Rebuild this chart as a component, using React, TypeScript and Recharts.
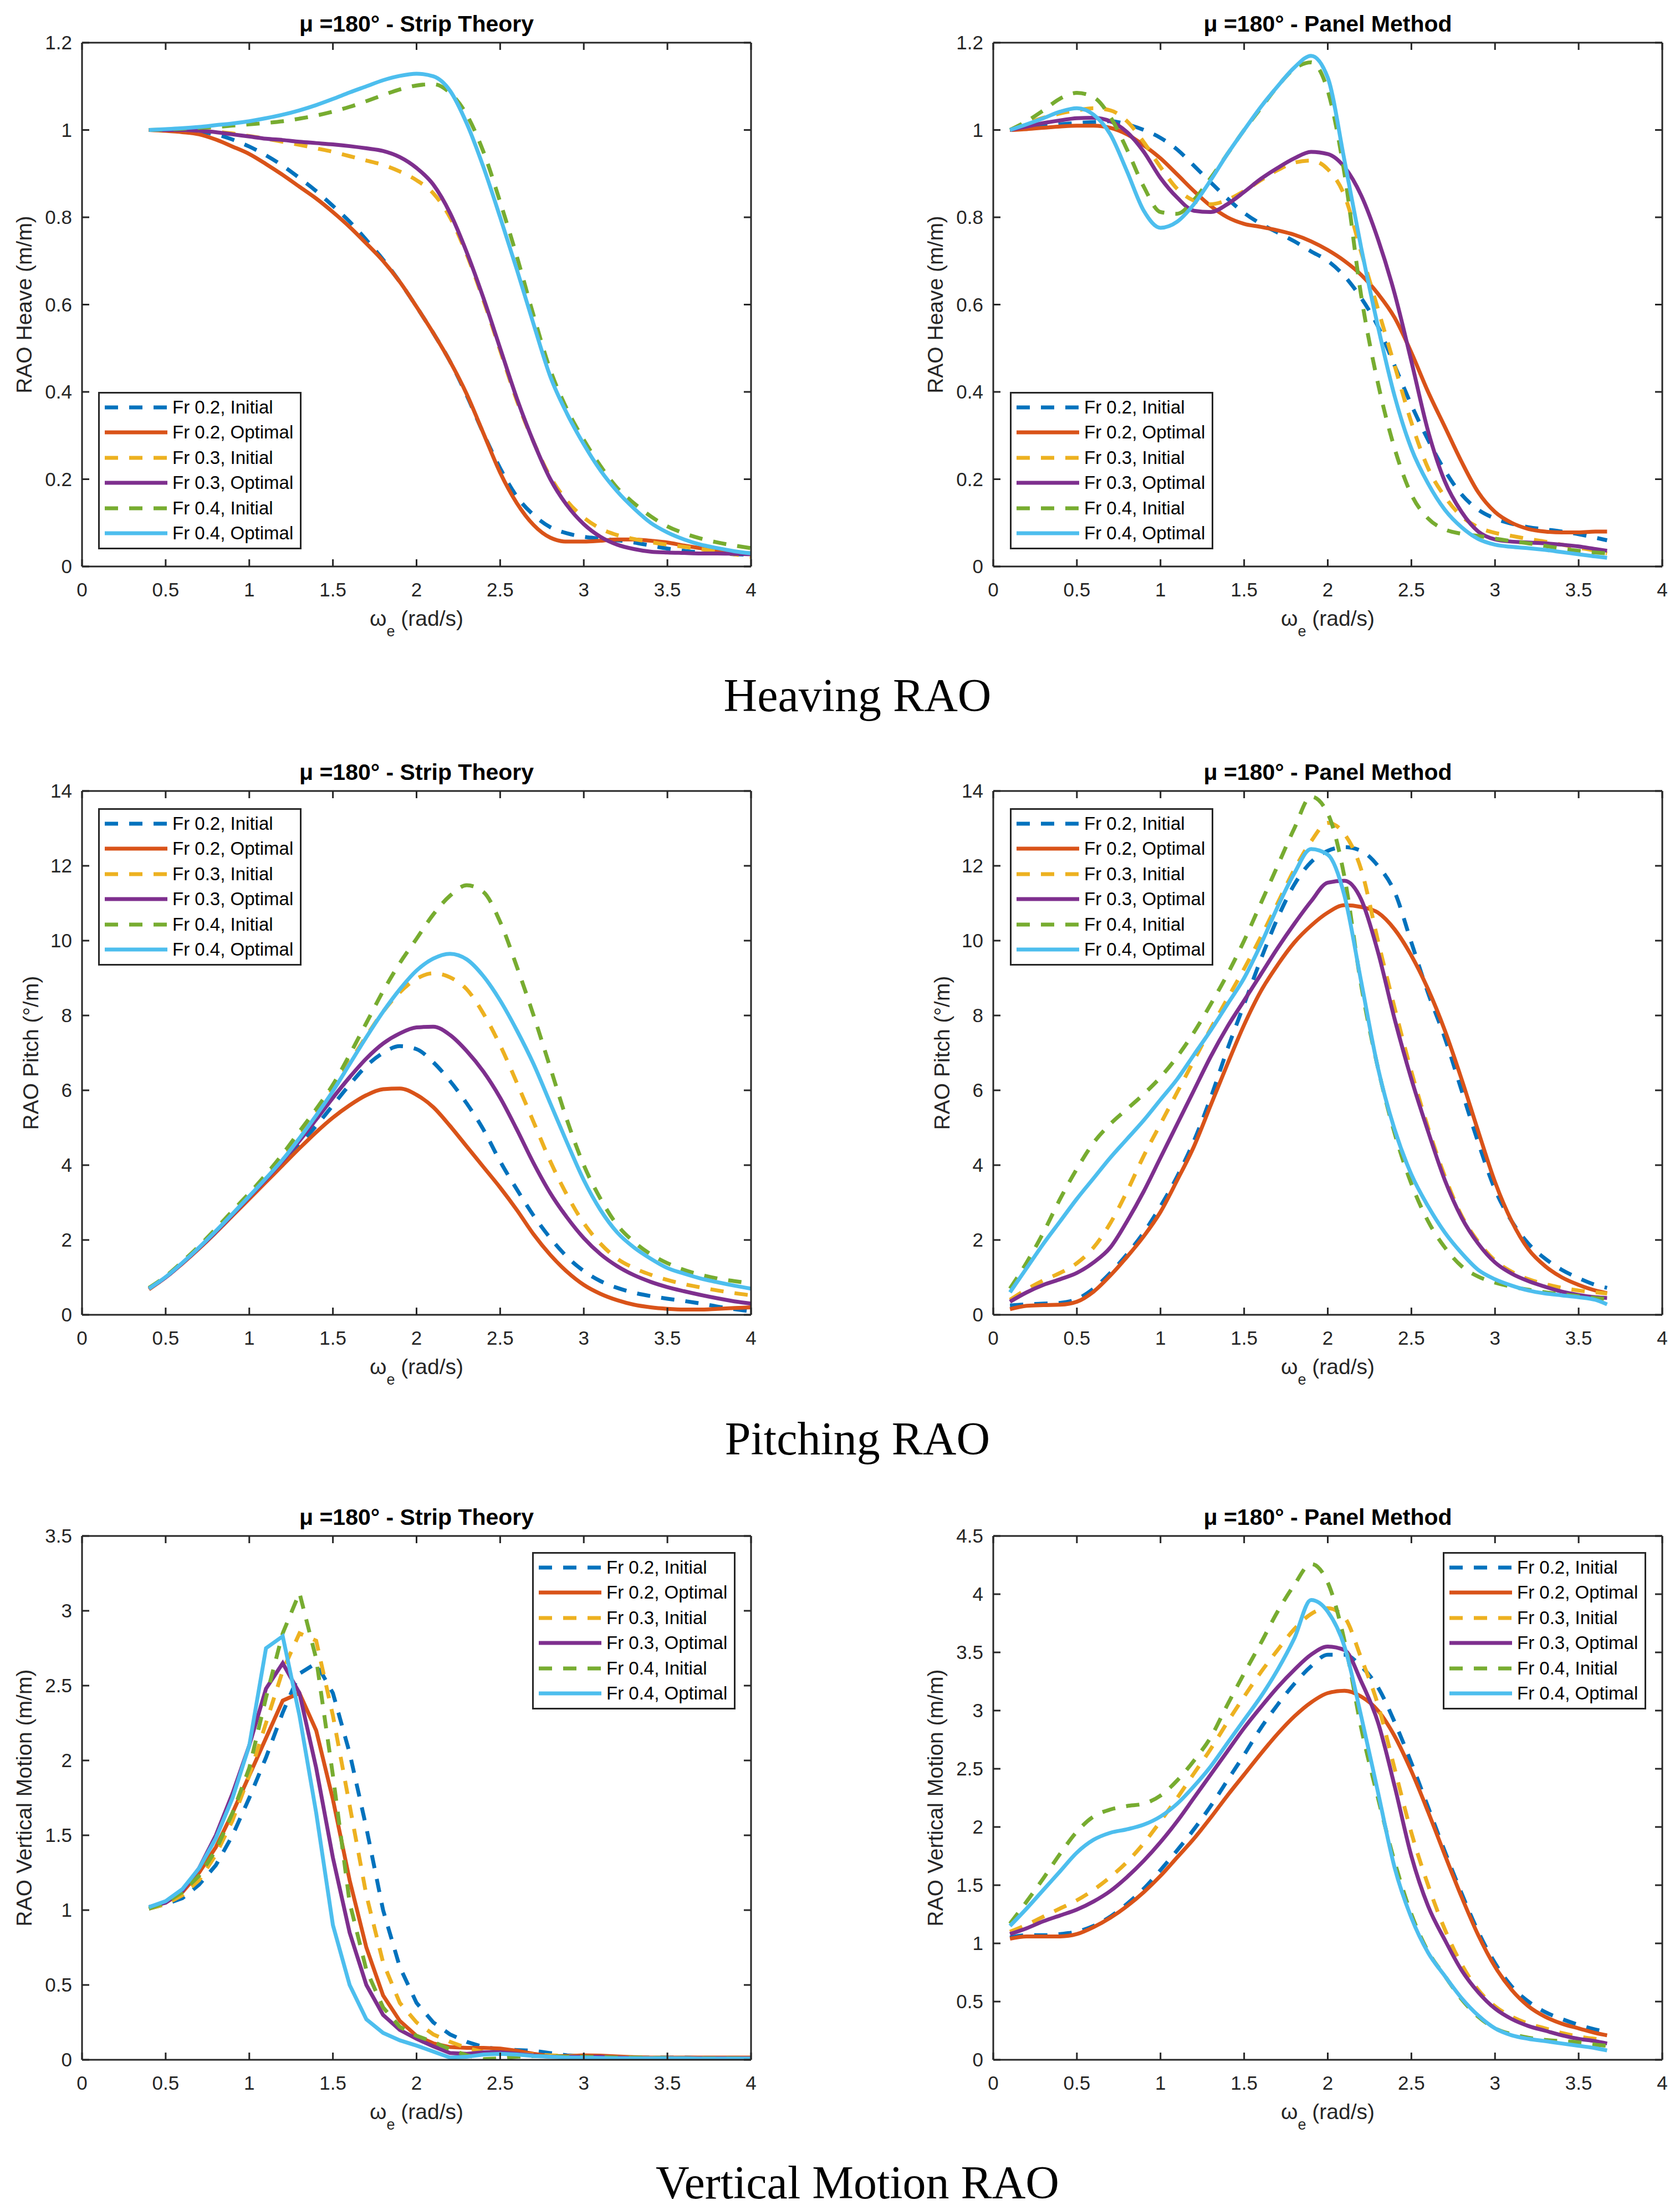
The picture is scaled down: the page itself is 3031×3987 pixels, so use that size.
import React from 'react';
import { LineChart, Line, XAxis, YAxis, Legend, Label } from 'recharts';

const AXIS = '#262626';
const SANS = '"Liberation Sans", Arial, Helvetica, sans-serif';
const SERIF = '"Liberation Serif", "Times New Roman", serif';
const DASH = '24 20';

const PLOT_W = 1207;
const PLOT_H = 945;
const ML = 145;
const MT = 80;
const MR = 20;
const MB = 150;
const CW = ML + PLOT_W + MR;
const CH = MT + PLOT_H + MB;

// ---------- categories / ticks ----------
const stripX = [0.4, 0.5, 0.6, 0.7, 0.8, 0.9, 1.0, 1.1, 1.2, 1.3, 1.4, 1.5, 1.6, 1.7, 1.8, 1.9, 2.0, 2.1, 2.2, 2.3, 2.4, 2.5, 2.6, 2.7, 2.8, 2.9, 3.0, 3.1, 3.2, 3.3, 3.4, 3.5, 3.6, 3.7, 3.8, 3.9, 4.0];
const panelX = [0.1, 0.2, 0.3, 0.4, 0.5, 0.6, 0.7, 0.8, 0.9, 1.0, 1.1, 1.2, 1.3, 1.4, 1.5, 1.6, 1.7, 1.8, 1.9, 2.0, 2.1, 2.2, 2.3, 2.4, 2.5, 2.6, 2.7, 2.8, 2.9, 3.0, 3.1, 3.2, 3.3, 3.4, 3.5, 3.6, 3.67];
const xTicks = [0, 0.5, 1, 1.5, 2, 2.5, 3, 3.5, 4];
const heaveTicks = [0, 0.2, 0.4, 0.6, 0.8, 1, 1.2];
const pitchTicks = [0, 2, 4, 6, 8, 10, 12, 14];
const vertStripTicks = [0, 0.5, 1, 1.5, 2, 2.5, 3, 3.5];
const vertPanelTicks = [0, 0.5, 1, 1.5, 2, 2.5, 3, 3.5, 4, 4.5];

const seriesNames = ['Fr 0.2, Initial', 'Fr 0.2, Optimal', 'Fr 0.3, Initial', 'Fr 0.3, Optimal', 'Fr 0.4, Initial', 'Fr 0.4, Optimal'];
const seriesColors = ['#0072BD', '#D95319', '#EDB120', '#7E2F8E', '#77AC30', '#4DBEEE'];
const seriesDashed = [true, false, true, false, true, false];

// ---------- Heave, strip theory ----------
const heaveStripFr02Init = [1.0, 1.0, 0.998, 0.995, 0.99, 0.978, 0.962, 0.942, 0.918, 0.89, 0.86, 0.826, 0.79, 0.748, 0.703, 0.652, 0.595, 0.535, 0.47, 0.392, 0.305, 0.225, 0.16, 0.118, 0.09, 0.076, 0.068, 0.064, 0.06, 0.055, 0.048, 0.041, 0.036, 0.032, 0.03, 0.028, 0.027];
const heaveStripFr02Opt = [1.0, 0.998, 0.995, 0.99, 0.978, 0.962, 0.945, 0.922, 0.897, 0.87, 0.843, 0.812, 0.778, 0.74, 0.7, 0.652, 0.595, 0.535, 0.47, 0.395, 0.305, 0.215, 0.145, 0.095, 0.066, 0.057, 0.057, 0.059, 0.062, 0.062, 0.059, 0.055, 0.048, 0.042, 0.037, 0.033, 0.03];
const heaveStripFr03Init = [1.0, 1.0, 1.0, 0.998, 0.996, 0.992, 0.986, 0.98, 0.973, 0.966, 0.958, 0.95, 0.94, 0.93, 0.92, 0.905, 0.885, 0.855, 0.8, 0.715, 0.61, 0.495, 0.38, 0.285, 0.205, 0.15, 0.112, 0.087, 0.072, 0.063, 0.056, 0.05, 0.045, 0.04, 0.034, 0.028, 0.022];
const heaveStripFr03Opt = [1.0, 1.0, 1.0, 0.998, 0.995, 0.99, 0.985, 0.98, 0.977, 0.973, 0.97, 0.967, 0.963, 0.958, 0.952, 0.938, 0.913, 0.875, 0.81, 0.72, 0.615, 0.5, 0.385, 0.285, 0.2, 0.14, 0.097, 0.068, 0.05, 0.04, 0.034, 0.032, 0.031, 0.03, 0.03, 0.029, 0.028];
const heaveStripFr04Init = [1.0, 1.001, 1.003, 1.005, 1.007, 1.01, 1.013, 1.016, 1.02, 1.026, 1.033, 1.042, 1.053, 1.066, 1.08, 1.093, 1.102, 1.105, 1.085, 1.035, 0.95, 0.835, 0.71, 0.575, 0.45, 0.36, 0.29, 0.23, 0.18, 0.145, 0.115, 0.092, 0.076, 0.064, 0.055, 0.048, 0.042];
const heaveStripFr04Opt = [1.0, 1.002, 1.004, 1.007, 1.011, 1.015, 1.02, 1.027, 1.035, 1.045, 1.057, 1.071, 1.086, 1.1, 1.114, 1.124, 1.129, 1.123, 1.09, 1.015, 0.915, 0.8, 0.68, 0.555, 0.435, 0.35, 0.28, 0.22, 0.172, 0.133, 0.1, 0.078, 0.062, 0.05, 0.042, 0.035, 0.03];

// ---------- Heave, panel method ----------
const heavePanelFr02Init = [1.0, 1.005, 1.01, 1.013, 1.016, 1.018, 1.02, 1.013, 1.0, 0.982, 0.955, 0.918, 0.88, 0.843, 0.81, 0.785, 0.765, 0.745, 0.722, 0.7, 0.665, 0.615, 0.55, 0.46, 0.37, 0.29, 0.22, 0.165, 0.13, 0.11, 0.098, 0.09, 0.085, 0.08, 0.074, 0.066, 0.06];
const heavePanelFr02Opt = [1.0, 1.002, 1.005, 1.008, 1.01, 1.01, 1.005, 0.99, 0.965, 0.935, 0.898, 0.86, 0.826, 0.8, 0.785, 0.778, 0.77, 0.76, 0.745, 0.725, 0.7, 0.668, 0.625, 0.57, 0.49, 0.4, 0.32, 0.24, 0.17, 0.125, 0.1, 0.086, 0.08, 0.078, 0.078, 0.08, 0.08];
const heavePanelFr03Init = [1.0, 1.015, 1.028, 1.038, 1.045, 1.05, 1.045, 1.02, 0.972, 0.915, 0.865, 0.838, 0.83, 0.84, 0.86, 0.885, 0.908, 0.925, 0.93, 0.91, 0.85, 0.72, 0.59, 0.46, 0.33, 0.225, 0.16, 0.115, 0.09, 0.077, 0.07, 0.063, 0.057, 0.05, 0.043, 0.036, 0.03];
const heavePanelFr03Opt = [1.0, 1.008, 1.016, 1.022, 1.027, 1.028, 1.02, 0.995, 0.95, 0.89, 0.845, 0.815, 0.812, 0.83, 0.858, 0.888, 0.913, 0.935, 0.95, 0.945, 0.915, 0.85, 0.75, 0.625, 0.47, 0.31, 0.195, 0.125, 0.08, 0.062, 0.057, 0.055, 0.053, 0.05, 0.046, 0.04, 0.036];
const heavePanelFr04Init = [1.0, 1.02, 1.045, 1.072, 1.085, 1.075, 1.03, 0.955, 0.87, 0.812, 0.808, 0.84, 0.89, 0.945, 1.0, 1.05, 1.1, 1.14, 1.155, 1.09, 0.9, 0.62, 0.42, 0.27, 0.165, 0.11, 0.085, 0.075, 0.07, 0.064, 0.058, 0.053, 0.047, 0.041, 0.036, 0.032, 0.03];
const heavePanelFr04Opt = [1.0, 1.013, 1.027, 1.042, 1.05, 1.035, 0.99, 0.905, 0.815, 0.776, 0.79, 0.83, 0.885, 0.945, 1.0, 1.053, 1.1, 1.143, 1.17, 1.12, 0.93, 0.73, 0.55, 0.39, 0.27, 0.19, 0.13, 0.09, 0.063, 0.05, 0.045, 0.042, 0.038, 0.033, 0.028, 0.023, 0.02];

// ---------- Pitch, strip theory ----------
const pitchStripFr02Init = [0.7, 1.0, 1.38, 1.78, 2.2, 2.66, 3.12, 3.58, 4.05, 4.55, 5.05, 5.6, 6.15, 6.65, 7.0, 7.18, 7.1, 6.75, 6.25, 5.65, 4.95, 4.1, 3.35, 2.65, 2.05, 1.55, 1.17, 0.9, 0.72, 0.59, 0.5, 0.43, 0.37, 0.3, 0.22, 0.15, 0.09];
const pitchStripFr02Opt = [0.68, 1.0, 1.37, 1.77, 2.2, 2.65, 3.1, 3.55, 4.0, 4.45, 4.88, 5.27, 5.6, 5.87, 6.03, 6.05, 5.88, 5.55, 5.05, 4.5, 3.95, 3.4, 2.8, 2.15, 1.6, 1.15, 0.8, 0.56, 0.39, 0.27, 0.2, 0.16, 0.14, 0.14, 0.16, 0.18, 0.2];
const pitchStripFr03Init = [0.7, 1.01, 1.39, 1.8, 2.24, 2.7, 3.18, 3.68, 4.2, 4.78, 5.4, 6.05, 6.75, 7.45, 8.1, 8.62, 8.98, 9.13, 9.02, 8.7, 8.05, 7.2, 6.2, 5.15, 4.1, 3.2, 2.45, 1.9, 1.5, 1.25, 1.07, 0.93, 0.82, 0.73, 0.65, 0.58, 0.52];
const pitchStripFr03Opt = [0.7, 1.0, 1.38, 1.79, 2.22, 2.68, 3.15, 3.62, 4.12, 4.65, 5.22, 5.8, 6.35, 6.85, 7.25, 7.52, 7.68, 7.7, 7.48, 7.05, 6.5, 5.8, 4.95, 4.05, 3.25, 2.6, 2.05, 1.62, 1.3, 1.06, 0.88, 0.74, 0.63, 0.53, 0.44, 0.36, 0.3];
const pitchStripFr04Init = [0.72, 1.03, 1.42, 1.84, 2.3, 2.78, 3.25, 3.75, 4.3, 4.9, 5.5, 6.15, 6.95, 7.8, 8.65, 9.4, 10.05, 10.7, 11.2, 11.48, 11.3, 10.5, 9.3, 8.0, 6.6, 5.2, 4.0, 3.1, 2.4, 1.95, 1.62, 1.38, 1.2, 1.07, 0.97, 0.9, 0.84];
const pitchStripFr04Opt = [0.7, 1.01, 1.39, 1.8, 2.24, 2.7, 3.17, 3.65, 4.15, 4.72, 5.33, 5.98, 6.7, 7.42, 8.1, 8.7, 9.2, 9.52, 9.65, 9.5, 9.05, 8.4, 7.6, 6.7, 5.65, 4.6, 3.6, 2.8, 2.2, 1.8, 1.5, 1.25, 1.1, 0.97, 0.87, 0.78, 0.7];

// ---------- Pitch, panel method ----------
const pitchPanelFr02Init = [0.25, 0.28, 0.3, 0.32, 0.42, 0.7, 1.12, 1.62, 2.2, 2.9, 3.7, 4.65, 5.8, 7.1, 8.3, 9.5, 10.6, 11.5, 12.1, 12.4, 12.5, 12.4, 12.0, 11.3, 9.95, 8.6, 7.4, 6.0, 4.6, 3.35, 2.5, 1.9, 1.5, 1.2, 0.98, 0.8, 0.72];
const pitchPanelFr02Opt = [0.15, 0.24, 0.26, 0.27, 0.35, 0.62, 1.05, 1.55, 2.1, 2.75, 3.6, 4.5, 5.6, 6.7, 7.75, 8.65, 9.35, 9.95, 10.4, 10.75, 10.95, 10.9, 10.75, 10.3, 9.6, 8.7, 7.6, 6.3, 4.9, 3.55, 2.5, 1.75, 1.3, 1.0, 0.8, 0.65, 0.58];
const pitchPanelFr03Init = [0.4, 0.68, 0.92, 1.12, 1.38, 1.8, 2.45, 3.3, 4.25, 5.1, 5.95, 6.8, 7.65, 8.45, 9.25, 10.1, 11.0, 11.9, 12.65, 13.15, 12.85, 11.9, 10.0, 8.2, 6.5, 5.0, 3.7, 2.65, 1.95, 1.45, 1.15, 0.95, 0.82, 0.72, 0.65, 0.6, 0.57];
const pitchPanelFr03Opt = [0.35, 0.6, 0.8, 0.95, 1.12, 1.4, 1.8, 2.5, 3.3, 4.2, 5.1, 6.0, 6.9, 7.7, 8.4, 9.1, 9.8, 10.45, 11.05, 11.55, 11.6, 11.1, 9.7, 7.9, 6.3, 4.9, 3.6, 2.6, 1.9, 1.4, 1.1, 0.9, 0.75, 0.62, 0.53, 0.47, 0.45];
const pitchPanelFr04Init = [0.7, 1.4, 2.2, 3.1, 3.9, 4.6, 5.1, 5.5, 5.9, 6.35, 6.9, 7.55, 8.3, 9.1, 10.0, 11.0, 12.0, 13.0, 13.85, 13.4, 11.7, 8.8, 6.6, 4.85, 3.5, 2.5, 1.8, 1.3, 1.02, 0.86, 0.75, 0.67, 0.6, 0.55, 0.5, 0.45, 0.42];
const pitchPanelFr04Opt = [0.6, 1.25, 1.9, 2.5, 3.1, 3.65, 4.2, 4.7, 5.2, 5.75, 6.3, 6.95, 7.6, 8.3, 9.0, 9.9, 10.9, 11.8, 12.45, 12.3, 11.2, 8.9, 6.6, 4.95, 3.75, 2.9, 2.2, 1.65, 1.2, 0.95, 0.78, 0.65, 0.57, 0.52, 0.47, 0.4, 0.28];

// ---------- Vertical motion, strip theory ----------
const vertStripFr02Init = [1.01, 1.04, 1.08, 1.17, 1.3, 1.5, 1.75, 2.02, 2.32, 2.58, 2.65, 2.45, 2.05, 1.55, 1.0, 0.62, 0.38, 0.25, 0.17, 0.12, 0.085, 0.07, 0.065, 0.06, 0.045, 0.03, 0.025, 0.02, 0.02, 0.015, 0.015, 0.015, 0.015, 0.012, 0.01, 0.01, 0.01];
const vertStripFr02Opt = [1.02, 1.05, 1.12, 1.25, 1.42, 1.65, 1.9, 2.15, 2.4, 2.45, 2.2, 1.74, 1.2, 0.75, 0.43, 0.26, 0.16, 0.11, 0.085, 0.08, 0.08, 0.075, 0.06, 0.04, 0.025, 0.025, 0.03, 0.028, 0.022, 0.018, 0.015, 0.015, 0.015, 0.015, 0.015, 0.015, 0.015];
const vertStripFr03Init = [1.01, 1.04, 1.1, 1.2, 1.37, 1.6, 1.9, 2.25, 2.6, 2.85, 2.8, 2.3, 1.7, 1.1, 0.65, 0.38, 0.25, 0.17, 0.12, 0.08, 0.05, 0.04, 0.04, 0.035, 0.03, 0.025, 0.02, 0.018, 0.015, 0.015, 0.012, 0.012, 0.01, 0.01, 0.01, 0.01, 0.01];
const vertStripFr03Opt = [1.02, 1.05, 1.13, 1.28, 1.5, 1.78, 2.1, 2.48, 2.65, 2.45, 1.95, 1.35, 0.85, 0.5, 0.3, 0.2, 0.14, 0.09, 0.045, 0.04, 0.05, 0.05, 0.04, 0.03, 0.02, 0.02, 0.02, 0.02, 0.015, 0.012, 0.01, 0.01, 0.01, 0.01, 0.01, 0.01, 0.01];
const vertStripFr04Init = [1.01, 1.05, 1.12, 1.23, 1.4, 1.65, 1.95, 2.42, 2.85, 3.12, 2.68, 1.9, 1.05, 0.6, 0.35, 0.22, 0.16, 0.12, 0.07, 0.03, 0.005, 0.01, 0.02, 0.025, 0.025, 0.02, 0.02, 0.018, 0.015, 0.015, 0.012, 0.012, 0.01, 0.01, 0.01, 0.01, 0.01];
const vertStripFr04Opt = [1.02, 1.06, 1.14, 1.28, 1.48, 1.75, 2.1, 2.75, 2.83, 2.3, 1.65, 0.9, 0.5, 0.27, 0.18, 0.13, 0.095, 0.055, 0.015, 0.02, 0.035, 0.04, 0.035, 0.025, 0.02, 0.015, 0.015, 0.012, 0.01, 0.01, 0.01, 0.01, 0.01, 0.008, 0.008, 0.008, 0.008];

// ---------- Vertical motion, panel method ----------
const vertPanelFr02Init = [1.05, 1.07, 1.07, 1.08, 1.1, 1.15, 1.23, 1.34, 1.47, 1.63, 1.8, 1.98, 2.18, 2.4, 2.62, 2.85, 3.05, 3.23, 3.38, 3.48, 3.48, 3.38, 3.2, 2.9, 2.55, 2.17, 1.79, 1.43, 1.1, 0.83, 0.63, 0.5, 0.41, 0.35, 0.3, 0.26, 0.24];
const vertPanelFr02Opt = [1.04, 1.06, 1.06, 1.06, 1.08, 1.14, 1.22, 1.32, 1.44, 1.58, 1.74, 1.9, 2.08, 2.27, 2.45, 2.63, 2.8, 2.95, 3.07, 3.15, 3.17, 3.12, 3.0, 2.78, 2.48, 2.13, 1.76, 1.4, 1.07, 0.8, 0.6, 0.46, 0.37, 0.31, 0.27, 0.23, 0.21];
const vertPanelFr03Init = [1.1, 1.16, 1.23, 1.3, 1.37, 1.46, 1.57, 1.7, 1.86, 2.05, 2.25, 2.46, 2.67, 2.9, 3.12, 3.33, 3.52, 3.7, 3.83, 3.88, 3.8, 3.45, 3.05, 2.5, 1.95, 1.5, 1.12, 0.82, 0.6, 0.46, 0.37, 0.31, 0.27, 0.23, 0.2, 0.18, 0.17];
const vertPanelFr03Opt = [1.08, 1.13, 1.19, 1.24, 1.29, 1.36, 1.45, 1.57, 1.71, 1.87, 2.05, 2.25, 2.45, 2.65, 2.85, 3.03, 3.2, 3.35, 3.48, 3.55, 3.52, 3.25, 2.9, 2.35, 1.75, 1.32, 1.03, 0.77, 0.58, 0.44, 0.35, 0.29, 0.25, 0.21, 0.18, 0.16, 0.14];
const vertPanelFr04Init = [1.17, 1.36, 1.56, 1.77, 1.96, 2.09, 2.15, 2.18, 2.2, 2.27, 2.4, 2.57, 2.77, 3.05, 3.32, 3.58, 3.85, 4.08, 4.26, 4.1, 3.6, 2.85, 2.25, 1.7, 1.25, 0.93, 0.72, 0.52, 0.37, 0.27, 0.22, 0.19, 0.17, 0.16, 0.15, 0.13, 0.12];
const vertPanelFr04Opt = [1.15, 1.3, 1.46, 1.62, 1.78, 1.89, 1.95, 1.98, 2.02, 2.09, 2.2, 2.35, 2.52, 2.72, 2.92, 3.12, 3.35, 3.62, 3.95, 3.85, 3.55, 2.95, 2.3, 1.65, 1.22, 0.92, 0.72, 0.53, 0.38, 0.27, 0.21, 0.18, 0.16, 0.14, 0.12, 0.1, 0.08];

function buildRows(xs: number[], series: number[][]) {
  return xs.map((x, i) => {
    const row: Record<string, number> = { x };
    series.forEach((s, k) => {
      row['s' + k] = s[i];
    });
    return row;
  });
}

const heaveStripRows = buildRows(stripX, [heaveStripFr02Init, heaveStripFr02Opt, heaveStripFr03Init, heaveStripFr03Opt, heaveStripFr04Init, heaveStripFr04Opt]);
const heavePanelRows = buildRows(panelX, [heavePanelFr02Init, heavePanelFr02Opt, heavePanelFr03Init, heavePanelFr03Opt, heavePanelFr04Init, heavePanelFr04Opt]);
const pitchStripRows = buildRows(stripX, [pitchStripFr02Init, pitchStripFr02Opt, pitchStripFr03Init, pitchStripFr03Opt, pitchStripFr04Init, pitchStripFr04Opt]);
const pitchPanelRows = buildRows(panelX, [pitchPanelFr02Init, pitchPanelFr02Opt, pitchPanelFr03Init, pitchPanelFr03Opt, pitchPanelFr04Init, pitchPanelFr04Opt]);
const vertStripRows = buildRows(stripX, [vertStripFr02Init, vertStripFr02Opt, vertStripFr03Init, vertStripFr03Opt, vertStripFr04Init, vertStripFr04Opt]);
const vertPanelRows = buildRows(panelX, [vertPanelFr02Init, vertPanelFr02Opt, vertPanelFr03Init, vertPanelFr03Opt, vertPanelFr04Init, vertPanelFr04Opt]);

// Empty tick label renderer: keeps the inward tick lines but draws no label.
const noTickLabel = () => <g />;

const renderLegend = (props: any) => {
  const payload = (props && props.payload) || [];
  return (
    <div style={{ position: 'relative', width: 367, height: 284, boxSizing: 'border-box', border: `3px solid ${AXIS}`, background: '#fff' }}>
      {payload.map((entry: any, i: number) => {
        const dash = (entry.payload && entry.payload.strokeDasharray) || (seriesDashed[i] ? DASH : undefined);
        return (
          <div key={i} style={{ position: 'absolute', left: 9, top: 3 + i * 45.4, height: 44, display: 'flex', alignItems: 'center' }}>
            <svg width={113} height={10} style={{ display: 'block' }}>
              <line x1={0} y1={5} x2={113} y2={5} stroke={entry.color} strokeWidth={7} strokeDasharray={dash} />
            </svg>
            <span style={{ marginLeft: 9, fontFamily: SANS, fontSize: 33, color: '#000', lineHeight: '44px', whiteSpace: 'nowrap' }}>{entry.value}</span>
          </div>
        );
      })}
    </div>
  );
};

type PanelProps = {
  plotLeft: number;
  plotTop: number;
  title: string;
  yLabel: string;
  yGap: number;
  yDomain: [number, number];
  yTicks: number[];
  rows: Record<string, number>[];
  legendX: number;
  legendY: number;
  curve: 'monotone' | 'linear';
};

function Panel(p: PanelProps) {
  const { plotLeft, plotTop, title, yLabel, yGap, yDomain, yTicks, rows, legendX, legendY, curve } = p;

  const renderXLabel = () => {
    const cx = ML + PLOT_W / 2;
    const by = MT + PLOT_H + 107;
    return (
      <text x={cx} y={by} textAnchor="middle" fill={AXIS} fontFamily={SANS} fontSize={39} style={{ whiteSpace: 'pre' }}>
        <tspan>ω</tspan>
        <tspan dy={19} fontSize={27}>e</tspan>
        <tspan dy={-19}>{' (rad/s)'}</tspan>
      </text>
    );
  };

  const renderYLabel = () => {
    const x = ML - yGap;
    const y = MT + PLOT_H / 2;
    return (
      <text x={x} y={y} transform={`rotate(-90, ${x}, ${y})`} textAnchor="middle" dominantBaseline="central" fill={AXIS} fontFamily={SANS} fontSize={39}>
        {yLabel}
      </text>
    );
  };

  const axisLine = { stroke: AXIS, strokeWidth: 3 };
  const tickLine = { stroke: AXIS, strokeWidth: 3 };
  const tickStyle = { fill: AXIS, fontSize: 35, fontFamily: SANS };

  return (
    <div style={{ position: 'absolute', left: plotLeft - ML, top: plotTop - MT, width: CW, height: CH }}>
      <div
        style={{
          position: 'absolute',
          left: ML,
          width: PLOT_W,
          top: MT - 19 - 35,
          textAlign: 'center',
          fontFamily: SANS,
          fontWeight: 'bold',
          fontSize: 41,
          lineHeight: '41px',
          color: '#000',
          whiteSpace: 'nowrap',
        }}
      >
        {title}
      </div>
      <LineChart width={CW} height={CH} data={rows} margin={{ top: MT, right: MR, bottom: 0, left: 0 }}>
        <XAxis
          xAxisId="b"
          type="number"
          dataKey="x"
          domain={[0, 4]}
          ticks={xTicks}
          interval={0}
          allowDataOverflow
          height={MB}
          stroke={AXIS}
          axisLine={axisLine}
          tickLine={false}
          tickSize={0}
          tickMargin={29}
          tick={tickStyle}
        >
          <Label content={renderXLabel} />
        </XAxis>
        <XAxis
          xAxisId="bm"
          type="number"
          dataKey="x"
          domain={[0, 4]}
          ticks={xTicks}
          interval={0}
          allowDataOverflow
          mirror
          stroke={AXIS}
          axisLine={false}
          tickLine={tickLine}
          tickSize={13}
          tick={noTickLabel}
        />
        <XAxis
          xAxisId="t"
          orientation="top"
          type="number"
          dataKey="x"
          domain={[0, 4]}
          ticks={xTicks}
          interval={0}
          allowDataOverflow
          mirror
          stroke={AXIS}
          axisLine={axisLine}
          tickLine={tickLine}
          tickSize={13}
          tick={noTickLabel}
        />
        <YAxis
          yAxisId="l"
          type="number"
          domain={yDomain}
          ticks={yTicks}
          interval={0}
          allowDataOverflow
          width={ML}
          stroke={AXIS}
          axisLine={axisLine}
          tickLine={false}
          tickSize={0}
          tickMargin={18}
          tick={tickStyle}
        >
          <Label content={renderYLabel} />
        </YAxis>
        <YAxis
          yAxisId="lm"
          type="number"
          domain={yDomain}
          ticks={yTicks}
          interval={0}
          allowDataOverflow
          mirror
          stroke={AXIS}
          axisLine={false}
          tickLine={tickLine}
          tickSize={13}
          tick={noTickLabel}
        />
        <YAxis
          yAxisId="r"
          orientation="right"
          type="number"
          domain={yDomain}
          ticks={yTicks}
          interval={0}
          allowDataOverflow
          mirror
          stroke={AXIS}
          axisLine={axisLine}
          tickLine={tickLine}
          tickSize={13}
          tick={noTickLabel}
        />
        {seriesNames.map((name, k) => (
          <Line
            key={name}
            xAxisId="b"
            yAxisId="l"
            type={curve}
            dataKey={'s' + k}
            name={name}
            stroke={seriesColors[k]}
            strokeWidth={7}
            strokeDasharray={seriesDashed[k] ? DASH : undefined}
            dot={false}
            activeDot={false}
            isAnimationActive={false}
          />
        ))}
        <Legend
          layout="vertical"
          align="center"
          verticalAlign="middle"
          wrapperStyle={{ left: ML + legendX, top: MT + legendY, width: 367, height: 284 }}
          content={renderLegend}
        />
      </LineChart>
    </div>
  );
}

function Caption({ text, baseline }: { text: string; baseline: number }) {
  return (
    <div
      style={{
        position: 'absolute',
        left: 1547 - 1000,
        width: 2000,
        top: baseline - 70,
        textAlign: 'center',
        fontFamily: SERIF,
        fontSize: 84,
        lineHeight: '84px',
        color: '#000',
        whiteSpace: 'nowrap',
      }}
    >
      {text}
    </div>
  );
}

const LEFT_X = 148;
const RIGHT_X = 1792;

export default function App() {
  return (
    <div style={{ position: 'relative', width: 3031, height: 3987, background: '#fff', overflow: 'hidden' }}>
      <style>{'body{margin:0;background:#fff;}'}</style>

      <Panel plotLeft={LEFT_X} plotTop={77} title="μ =180° - Strip Theory" yLabel="RAO Heave (m/m)" yGap={105}
        yDomain={[0, 1.2]} yTicks={heaveTicks} rows={heaveStripRows} legendX={29} legendY={630} curve="monotone" />
      <Panel plotLeft={RIGHT_X} plotTop={77} title="μ =180° - Panel Method" yLabel="RAO Heave (m/m)" yGap={105}
        yDomain={[0, 1.2]} yTicks={heaveTicks} rows={heavePanelRows} legendX={30} legendY={630} curve="monotone" />
      <Caption text="Heaving RAO" baseline={1283} />

      <Panel plotLeft={LEFT_X} plotTop={1427} title="μ =180° - Strip Theory" yLabel="RAO Pitch (°/m)" yGap={93}
        yDomain={[0, 14]} yTicks={pitchTicks} rows={pitchStripRows} legendX={29} legendY={31} curve="monotone" />
      <Panel plotLeft={RIGHT_X} plotTop={1427} title="μ =180° - Panel Method" yLabel="RAO Pitch (°/m)" yGap={93}
        yDomain={[0, 14]} yTicks={pitchTicks} rows={pitchPanelRows} legendX={30} legendY={31} curve="monotone" />
      <Caption text="Pitching RAO" baseline={2624} />

      <Panel plotLeft={LEFT_X} plotTop={2771} title="μ =180° - Strip Theory" yLabel="RAO Vertical Motion (m/m)" yGap={105}
        yDomain={[0, 3.5]} yTicks={vertStripTicks} rows={vertStripRows} legendX={812} legendY={29} curve="linear" />
      <Panel plotLeft={RIGHT_X} plotTop={2771} title="μ =180° - Panel Method" yLabel="RAO Vertical Motion (m/m)" yGap={105}
        yDomain={[0, 4.5]} yTicks={vertPanelTicks} rows={vertPanelRows} legendX={811} legendY={29} curve="monotone" />
      <Caption text="Vertical Motion RAO" baseline={3966} />
    </div>
  );
}
